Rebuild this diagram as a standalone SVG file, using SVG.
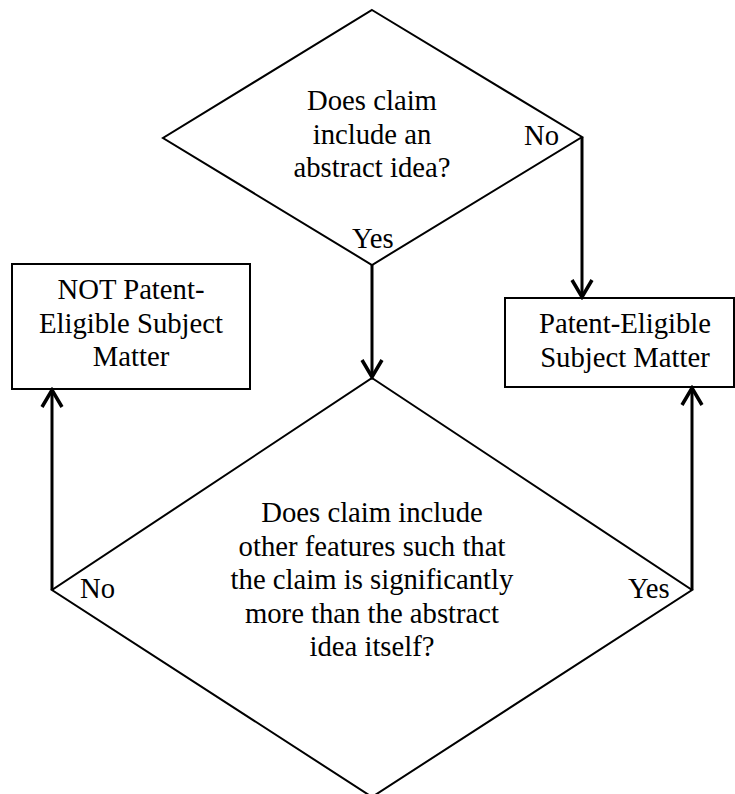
<svg xmlns="http://www.w3.org/2000/svg" width="735" height="794" viewBox="0 0 735 794">
<style>
  .shape { fill: #fff; stroke: #000; stroke-width: 2; }
  .conn { fill: none; stroke: #000; stroke-width: 3; }
  .t { font-family: "Liberation Serif", "Times New Roman", "DejaVu Serif", serif; font-size: 28.7px; fill: #000; }
  .c { text-anchor: middle; }
</style>
<defs>
  <marker id="arrow" viewBox="0 0 24 24" markerWidth="24" markerHeight="24" refX="21" refY="12" orient="auto" markerUnits="userSpaceOnUse">
    <path d="M4,2 L21,12 L4,22" fill="none" stroke="#000" stroke-width="3.5"/>
  </marker>
</defs>
<rect width="735" height="794" fill="#fff"/>
<g id="q1">
  <polygon class="shape" points="372,10 582,137 372,265 163,138"/>
  <text class="t c" x="372" y="110">Does claim</text>
  <text class="t c" x="372" y="143.5">include an</text>
  <text class="t c" x="372" y="177">abstract idea?</text>
</g>
<g id="q2">
  <polygon class="shape" points="372,378 692,590 372,797 52,590"/>
  <text class="t c" x="372" y="522">Does claim include</text>
  <text class="t c" x="372" y="555.5">other features such that</text>
  <text class="t c" x="372" y="589">the claim is significantly</text>
  <text class="t c" x="372" y="622.5">more than the abstract</text>
  <text class="t c" x="372" y="656">idea itself?</text>
</g>
<g id="not-eligible">
  <rect class="shape" x="12" y="264" width="238" height="125"/>
  <text class="t c" x="131" y="299">NOT Patent-</text>
  <text class="t c" x="131" y="332.5">Eligible Subject</text>
  <text class="t c" x="131" y="366">Matter</text>
</g>
<g id="eligible">
  <rect class="shape" x="505" y="298" width="229" height="89"/>
  <text class="t c" x="625" y="333">Patent-Eligible</text>
  <text class="t c" x="625" y="367">Subject Matter</text>
</g>
<g id="connectors">
  <line class="conn" x1="372" y1="265" x2="372" y2="377" marker-end="url(#arrow)"/>
  <line class="conn" x1="582" y1="137" x2="582" y2="297" marker-end="url(#arrow)"/>
  <line class="conn" x1="52" y1="590" x2="52" y2="390" marker-end="url(#arrow)"/>
  <line class="conn" x1="692" y1="590" x2="692" y2="388" marker-end="url(#arrow)"/>
</g>
<g id="labels">
  <text class="t" x="524" y="145">No</text>
  <text class="t" x="352" y="248">Yes</text>
  <text class="t" x="80" y="598">No</text>
  <text class="t" x="628" y="598">Yes</text>
</g>
</svg>
